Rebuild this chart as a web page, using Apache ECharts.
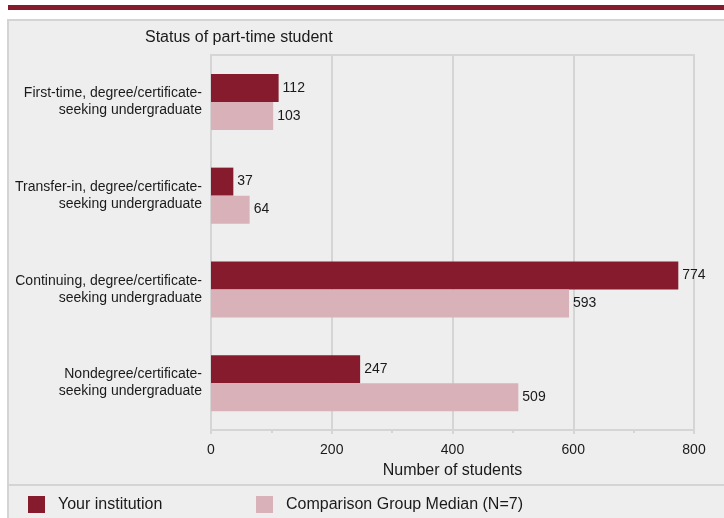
<!DOCTYPE html>
<html>
<head>
<meta charset="utf-8">
<script src="https://cdn.jsdelivr.net/npm/echarts@6/dist/echarts.min.js"></script>
<style>
  html, body { margin: 0; padding: 0; background: #ffffff; }
  #chart { width: 724px; height: 518px; }
</style>
</head>
<body>
<div id="chart"></div>
<script>
// data
const categories = [
  'First-time, degree/certificate-\nseeking undergraduate',
  'Transfer-in, degree/certificate-\nseeking undergraduate',
  'Continuing, degree/certificate-\nseeking undergraduate',
  'Nondegree/certificate-\nseeking undergraduate'
]
const yourInstitution = [112, 37, 774, 247]
const comparisonMedian = [103, 64, 593, 509]
const xTicks = { min: 0, max: 800, interval: 200 }

const darkRed = '#861b2d'
const lightPink = '#d8b2b8'
const gridGray = '#d5d5d5'

const chart = echarts.init(document.getElementById('chart'))

const labelStyle = {
  show: true,
  position: 'right',
  distance: 4,
  color: '#1a1a1a',
  fontSize: 14,
  fontFamily: 'Liberation Sans, Arial, sans-serif'
}

chart.setOption({
  animation: false,
  textStyle: { fontFamily: 'Liberation Sans, Arial, sans-serif' },
  graphic: [
    // top stripe
    { type: 'rect', shape: { x: 8, y: 5, width: 720, height: 5 }, style: { fill: darkRed }, z: -10 },
    // gray panel
    { type: 'rect', shape: { x: 8, y: 20, width: 730, height: 520 }, style: { fill: '#eeeeee', stroke: '#d4d4d4', lineWidth: 2 }, z: -10 },
    // separator above legend
    { type: 'line', shape: { x1: 8, y1: 485, x2: 724, y2: 485 }, style: { stroke: '#d4d4d4', lineWidth: 2 }, z: -9 },
    // title
    { type: 'text', left: 145, top: 30, style: { text: 'Status of part-time student', fill: '#1a1a1a', font: '16px Liberation Sans, Arial, sans-serif' } }
  ],
  legend: [
    {
      left: 28, top: 496, padding: 0,
      itemWidth: 17, itemHeight: 17,
      icon: 'rect',
      data: ['Your institution'],
      textStyle: { fontSize: 16, color: '#1a1a1a', padding: [0, 0, 0, 8] }
    },
    {
      left: 256, top: 496, padding: 0,
      itemWidth: 17, itemHeight: 17,
      icon: 'rect',
      data: ['Comparison Group Median (N=7)'],
      textStyle: { fontSize: 16, color: '#1a1a1a', padding: [0, 0, 0, 8] }
    }
  ],
  grid: {
    left: 211, right: 30, top: 55, bottom: 88,
    show: true,
    borderColor: gridGray,
    borderWidth: 2,
    backgroundColor: 'transparent'
  },
  xAxis: {
    type: 'value',
    min: xTicks.min,
    max: xTicks.max,
    interval: xTicks.interval,
    name: 'Number of students',
    nameLocation: 'middle',
    nameGap: 33,
    nameTextStyle: { fontSize: 16, color: '#1a1a1a' },
    axisLine: { show: true, lineStyle: { color: gridGray, width: 2 } },
    axisTick: { show: true, length: 4, lineStyle: { color: gridGray, width: 2 } },
    minorTick: { show: true, splitNumber: 2, length: 3, lineStyle: { color: gridGray, width: 2 } },
    axisLabel: { margin: 13, fontSize: 14, color: '#1a1a1a' },
    splitLine: { show: true, lineStyle: { color: gridGray, width: 2 } }
  },
  yAxis: {
    type: 'category',
    data: categories,
    inverse: true,
    axisLine: { show: true, lineStyle: { color: gridGray, width: 2 } },
    axisTick: { show: false },
    axisLabel: { margin: 9, fontSize: 14, color: '#1a1a1a', lineHeight: 17, align: 'right' }
  },
  series: [
    {
      name: 'Your institution',
      type: 'bar',
      data: yourInstitution,
      barWidth: 28,
      barGap: '0%',
      itemStyle: { color: darkRed },
      label: labelStyle
    },
    {
      name: 'Comparison Group Median (N=7)',
      type: 'bar',
      data: comparisonMedian,
      barWidth: 28,
      barGap: '0%',
      itemStyle: { color: lightPink },
      label: labelStyle
    }
  ]
})
</script>
</body>
</html>
